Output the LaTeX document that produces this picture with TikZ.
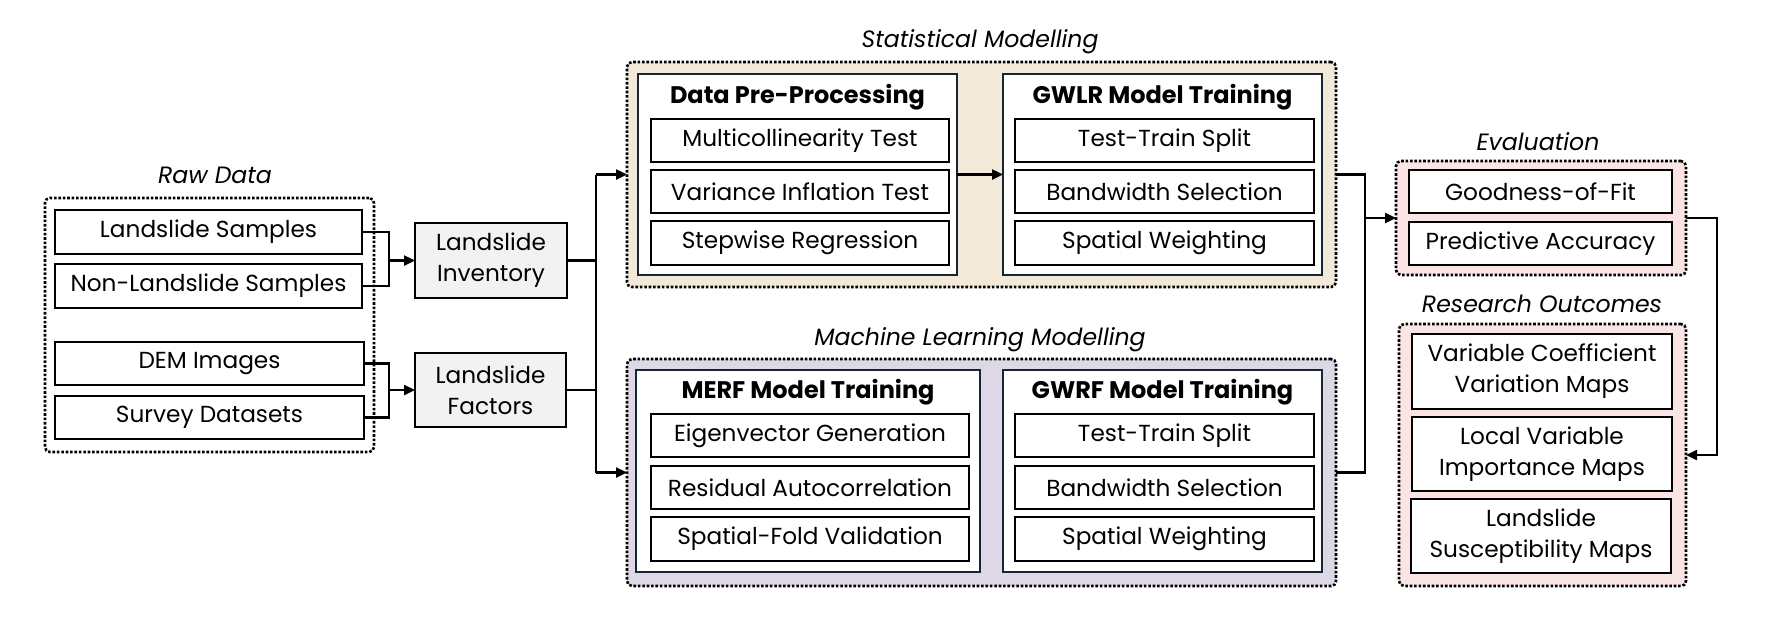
\documentclass[tikz,border=0pt]{standalone}
\usepackage{fontspec}
\setmainfont{Poppins}
\usetikzlibrary{arrows.meta}
\definecolor{statbg}{RGB}{243,233,217}
\definecolor{mlbg}{RGB}{222,215,230}
\definecolor{evbg}{RGB}{250,228,228}
\definecolor{invbg}{RGB}{242,242,242}
\definecolor{navy}{RGB}{22,38,52}
\begin{document}
\begin{tikzpicture}[x=0.5pt,y=-0.5pt,
  every node/.style={font=\fontsize{11.6}{15.5}\selectfont, inner sep=0pt, outer sep=0pt},
  item/.style={draw=black, line width=0.8pt, fill=white, align=center},
  gray/.style={draw=black, line width=0.8pt, fill=invbg, align=center},
  inner/.style={draw=navy, line width=1.3pt, fill=white},
  group/.style={draw=black, line width=1.3pt, dash pattern=on 1.3pt off 0.9pt, rounded corners=2.5pt},
  ttl/.style={font=\fontsize{11.8}{15}\selectfont\itshape},
  hd/.style={font=\fontsize{12}{15}\selectfont\bfseries},
  conn/.style={draw=black, line width=1.2pt},
  arr/.style={conn, -{Triangle[length=5.5pt,width=5pt]}}
]
\useasboundingbox (0,0) rectangle (1766,628);

% ---------- Raw data ----------
\node (rawbox) [group, minimum width=164.5pt, minimum height=127pt] at (209.5,325) {};
\node (rawttl) [ttl] at (215,175) {Raw Data};
\node (ls)  [item, minimum width=153.5pt, minimum height=22pt] at (208.5,232) {Landslide Samples};
\node (nls) [item, minimum width=153.5pt, minimum height=22pt] at (208.5,286) {Non-Landslide Samples};
\node (dem) [item, minimum width=154.5pt, minimum height=21.5pt] at (209.5,363.5) {DEM Images};
\node (sd)  [item, minimum width=154.5pt, minimum height=21.5pt] at (209.5,417.5) {Survey Datasets};

\node (inv) [gray, minimum width=76pt, minimum height=37.5pt] at (491,260.5) {Landslide\\Inventory};
\node (fac) [gray, minimum width=75.5pt, minimum height=37pt] at (490.5,390) {Landslide\\Factors};

\coordinate (m1) at (389,260.5);
\coordinate (m2) at (389,390);
\draw[conn] (ls.east) -| (m1);
\draw[conn] (nls.east) -| (m1);
\draw[arr] (m1) -- (inv.west);
\draw[conn] (dem.east) -| (m2);
\draw[conn] (sd.east) -| (m2);
\draw[arr] (m2) -- (fac.west);

% ---------- Statistical modelling ----------
\node (stat) [group, fill=statbg, minimum width=354.5pt, minimum height=112.5pt] at (981.5,174.5) {};
\node (statttl) [ttl] at (980,42) {Statistical Modelling};
\node (dpp) [inner, minimum width=159.5pt, minimum height=100.5pt] at (797.5,174.5) {};
\node (dppttl) [hd] at (797.5,97) {Data Pre-Processing};
\node (mt) [item, minimum width=149pt, minimum height=21.5pt] at (800,140.5) {Multicollinearity Test};
\node (vi) [item, minimum width=149pt, minimum height=21.5pt] at (800,191.5) {Variance Inflation Test};
\node (sr) [item, minimum width=149pt, minimum height=22pt] at (800,243) {Stepwise Regression};

\node (gwlr) [inner, minimum width=159.5pt, minimum height=100.5pt] at (1162.5,174.5) {};
\node (gwlrttl) [hd] at (1162.5,97) {GWLR Model Training};
\node (g1) [item, minimum width=149.5pt, minimum height=21.5pt] at (1164.5,140.5) {Test-Train Split};
\node (g2) [item, minimum width=149.5pt, minimum height=21.5pt] at (1164.5,191.5) {Bandwidth Selection};
\node (g3) [item, minimum width=149.5pt, minimum height=22pt] at (1164.5,243) {Spatial Weighting};

% ---------- Machine learning modelling ----------
\node (ml) [group, fill=mlbg, minimum width=354.5pt, minimum height=113.5pt] at (981.5,472.5) {};
\node (mlttl) [ttl] at (980,340) {Machine Learning Modelling};
\node (merf) [inner, minimum width=172pt, minimum height=101pt] at (808,471) {};
\node (merfttl) [hd] at (808,392) {MERF Model Training};
\node (e1) [item, minimum width=159pt, minimum height=21.5pt] at (810,435.5) {Eigenvector Generation};
\node (e2) [item, minimum width=159pt, minimum height=21.5pt] at (810,487.5) {Residual Autocorrelation};
\node (e3) [item, minimum width=159pt, minimum height=22pt] at (810,539) {Spatial-Fold Validation};

\node (gwrf) [inner, minimum width=159.5pt, minimum height=101pt] at (1162.5,471) {};
\node (gwrfttl) [hd] at (1162.5,392) {GWRF Model Training};
\node (r1) [item, minimum width=149.5pt, minimum height=21.5pt] at (1164.5,435.5) {Test-Train Split};
\node (r2) [item, minimum width=149.5pt, minimum height=21.5pt] at (1164.5,487.5) {Bandwidth Selection};
\node (r3) [item, minimum width=149.5pt, minimum height=22pt] at (1164.5,539) {Spatial Weighting};

\draw[arr] (dpp.east) -- (gwlr.west);

% left distribution
\coordinate (v1) at (596,174.5);
\coordinate (v2) at (596,472.5);
\draw[conn] (v1) -- (v2);
\draw[conn] (inv.east) -- (inv.east -| v1);
\draw[conn] (fac.east) -- (fac.east -| v1);
\draw[arr] (v1) -- (stat.west);
\draw[arr] (v2) -- (ml.west);

% ---------- Evaluation ----------
\node (eval) [group, fill=evbg, minimum width=145pt, minimum height=57pt] at (1541,218) {};
\node (evalttl) [ttl] at (1538,142) {Evaluation};
\node (gf) [item, minimum width=131.5pt, minimum height=21.5pt] at (1540.5,191.5) {Goodness-of-Fit};
\node (pa) [item, minimum width=131.5pt, minimum height=21.5pt] at (1540.5,243.5) {Predictive Accuracy};

% ---------- Research outcomes ----------
\node (ro) [group, fill=evbg, minimum width=143.5pt, minimum height=131pt] at (1542.5,455) {};
\node (rottl) [ttl] at (1542,304) {Research Outcomes};
\node (o1) [item, minimum width=130pt, minimum height=37.5pt] at (1542,371.5) {Variable Coefficient\\Variation Maps};
\node (o2) [item, minimum width=130pt, minimum height=37pt] at (1542,454) {Local Variable\\Importance Maps};
\node (o3) [item, minimum width=130pt, minimum height=37pt] at (1541,536) {Landslide\\Susceptibility Maps};

% right side connectors
\coordinate (v3) at (1365,174.5);
\coordinate (v4) at (1365,472.5);
\draw[conn] (stat.east) -- (v3) -- (v4) -- (ml.east);
\draw[arr] (eval.west -| v3) -- (eval.west);
\coordinate (v5) at (1717,218);
\draw[arr] (eval.east) -- (v5) |- (ro.east);
\end{tikzpicture}
\end{document}
